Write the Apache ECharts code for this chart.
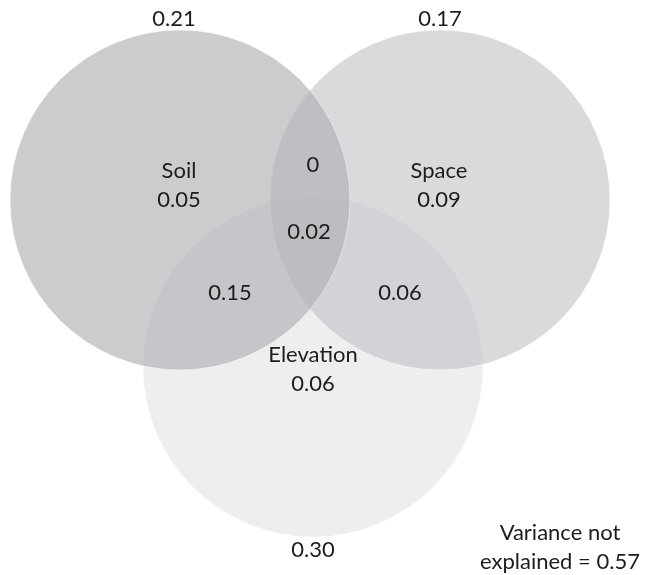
<!DOCTYPE html>
<html>
<head>
<meta charset="utf-8">
<script src="https://cdn.jsdelivr.net/npm/echarts@6/dist/echarts.min.js"></script>
<style>html,body{margin:0;padding:0;background:#fff}#c{width:647px;height:575px}</style>
</head>
<body>
<div id="c"></div>
<script>
// Sets: name, centre (x, y in layout units), radius, fill colour
const setNames   = ['Elevation', 'Space', 'Soil'];
const setCenterX = [313, 440, 180];
const setCenterY = [367, 200, 200];
const setRadius  = [170, 170, 170];
const setColors  = ['rgba(238,238,239,1)', 'rgba(192,193,197,0.6)', 'rgba(176,177,181,0.65)'];

// Region labels (text, position)
const labelTexts = ['0.21', '0.17', 'Soil\n0.05', 'Space\n0.09', '0', '0.02', '0.15', '0.06', 'Elevation\n0.06', '0.30', 'Variance not\nexplained = 0.57'];
const labelX     = [174, 440, 179, 439, 313, 309, 230, 400, 313, 313, 560];
const labelY     = [19, 19, 185, 185, 165, 232, 293, 293, 369, 550, 547];

const circleData = setNames.map((n, i) => [setCenterX[i], setCenterY[i], setRadius[i], i]);
const labelData = labelTexts.map((t, i) => [labelX[i], labelY[i], t]);

const chart = echarts.init(document.getElementById('c'), null, {renderer: 'canvas'});
chart.setOption({
  animation: false,
  grid: {left: 0, right: 0, top: 0, bottom: 0},
  xAxis: {type: 'value', min: 0, max: 647, show: false},
  yAxis: {type: 'value', min: 0, max: 575, inverse: true, show: false},
  series: [
    {
      type: 'custom',
      coordinateSystem: 'cartesian2d',
      data: circleData,
      renderItem: function (params, api) {
        const c = api.coord([api.value(0), api.value(1)]);
        const r = api.size([api.value(2), 0])[0];
        const idx = api.value(3);
        return {
          type: 'circle',
          shape: {cx: c[0], cy: c[1], r: r},
          style: {fill: setColors[idx], stroke: 'rgba(255,255,255,0.45)', lineWidth: 1}
        };
      },
      silent: true
    },
    {
      type: 'custom',
      coordinateSystem: 'cartesian2d',
      data: labelData,
      renderItem: function (params, api) {
        const c = api.coord([api.value(0), api.value(1)]);
        return {
          type: 'text',
          x: c[0], y: c[1],
          style: {
            text: labelData[params.dataIndex][2],
            fill: '#1c1c1c',
            font: '22px Lato, "Open Sans", sans-serif',
            lineHeight: 29,
            align: 'center',
            verticalAlign: 'middle'
          }
        };
      },
      silent: true
    }
  ]
});
</script>
</body>
</html>
